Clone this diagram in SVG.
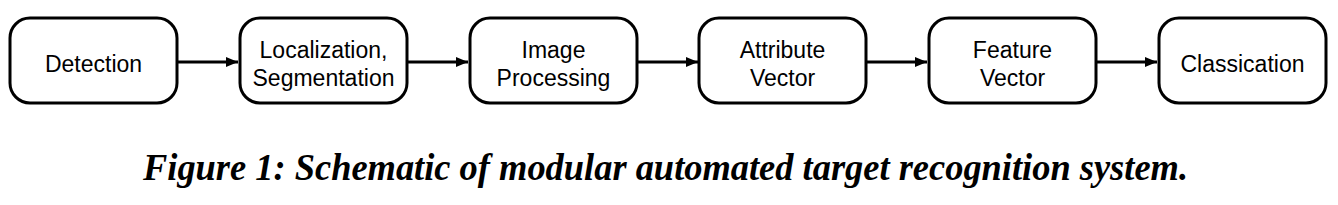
<svg xmlns="http://www.w3.org/2000/svg" width="1338" height="205" viewBox="0 0 1338 205">
<style>
.box{fill:#fff;stroke:#000;stroke-width:3}
.lbl{font-family:"Liberation Sans",Arial,sans-serif;font-size:23px;fill:#000;text-anchor:middle}
.conn{stroke:#000;stroke-width:3;fill:none}
.cap{font-family:"Liberation Serif","Times New Roman",serif;font-size:37px;font-weight:bold;font-style:italic;fill:#000}
</style>
<defs>
<marker id="ah" viewBox="0 0 12 10" refX="12" refY="5" markerWidth="12" markerHeight="10" markerUnits="userSpaceOnUse" orient="auto">
<path d="M0,0 L12,5 L0,10 Z" fill="#000"/>
</marker>
</defs>
<rect width="1338" height="205" fill="#fff"/>
<g id="connectors">
<line class="conn" x1="177" y1="62" x2="238" y2="62" marker-end="url(#ah)"/>
<line class="conn" x1="407" y1="62" x2="468" y2="62" marker-end="url(#ah)"/>
<line class="conn" x1="637" y1="62" x2="698" y2="62" marker-end="url(#ah)"/>
<line class="conn" x1="866" y1="62" x2="927" y2="62" marker-end="url(#ah)"/>
<line class="conn" x1="1096" y1="62" x2="1157" y2="62" marker-end="url(#ah)"/>
</g>
<g id="detection">
<rect class="box" x="10" y="18" width="167" height="85" rx="20"/>
<text class="lbl" x="93.5" y="72">Detection</text>
</g>
<g id="localization">
<rect class="box" x="240" y="18" width="167" height="85" rx="20"/>
<text class="lbl" x="323.5" y="58">Localization,</text>
<text class="lbl" x="323.5" y="86">Segmentation</text>
</g>
<g id="image-processing">
<rect class="box" x="470" y="18" width="167" height="85" rx="20"/>
<text class="lbl" x="553.5" y="58">Image</text>
<text class="lbl" x="553.5" y="86">Processing</text>
</g>
<g id="attribute-vector">
<rect class="box" x="699" y="18" width="167" height="85" rx="20"/>
<text class="lbl" x="782.5" y="58">Attribute</text>
<text class="lbl" x="782.5" y="86">Vector</text>
</g>
<g id="feature-vector">
<rect class="box" x="929" y="18" width="167" height="85" rx="20"/>
<text class="lbl" x="1012.5" y="58">Feature</text>
<text class="lbl" x="1012.5" y="86">Vector</text>
</g>
<g id="classication">
<rect class="box" x="1159" y="18" width="167" height="85" rx="20"/>
<text class="lbl" x="1242.5" y="72">Classication</text>
</g>
<text class="cap" x="143" y="180" textLength="1045" lengthAdjust="spacingAndGlyphs">Figure 1: Schematic of modular automated target recognition system.</text>
</svg>
